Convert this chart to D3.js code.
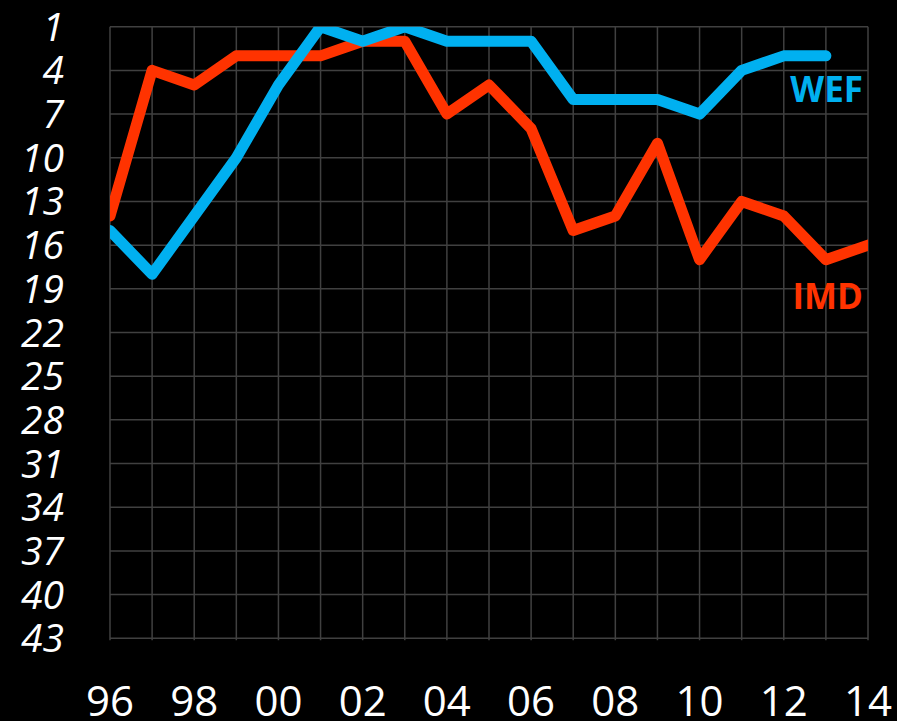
<!DOCTYPE html>
<html>
<head>
<meta charset="utf-8">
<script src="https://cdn.jsdelivr.net/npm/d3@7"></script>
<style>
  html, body { margin: 0; padding: 0; background: #000; }
  svg { display: block; }
</style>
</head>
<body>
<svg id="chart" width="897" height="721"></svg>
<script>
const years = [1996,1997,1998,1999,2000,2001,2002,2003,2004,2005,2006,2007,2008,2009,2010,2011,2012,2013,2014];
const wefYears = [1996,1997,1998,1999,2000,2001,2002,2003,2004,2005,2006,2007,2008,2009,2010,2011,2012,2013];
const wefRank = [15,18,14,10,5,1,2,1,2,2,2,6,6,6,7,4,3,3];
const imdYears = years;
const imdRank = [14,4,5,3,3,3,2,2,7,5,8,15,14,9,17,13,14,17,16];
const yTicks = [1,4,7,10,13,16,19,22,25,28,31,34,37,40,43];
const xTickYears = [1996,1998,2000,2002,2004,2006,2008,2010,2012,2014];
const seriesNames = ["WEF","IMD"];

const svg = d3.select("#chart");
const L = 110, R = 868, T = 26.7, B = 638.3;
const x = d3.scaleLinear().domain([1996, 2014]).range([L, R]);
const y = d3.scaleLinear().domain([1, 43]).range([T, B]);
const grid = "#404040";

// background
svg.append("rect").attr("width", 897).attr("height", 721).attr("fill", "#000");

// horizontal gridlines
svg.append("g").selectAll("line").data(yTicks).join("line")
  .attr("x1", L).attr("x2", R)
  .attr("y1", d => y(d)).attr("y2", d => y(d))
  .attr("stroke", grid).attr("stroke-width", 1.5);
// vertical gridlines
svg.append("g").selectAll("line").data(years).join("line")
  .attr("x1", d => x(d)).attr("x2", d => x(d))
  .attr("y1", T).attr("y2", B + 2)
  .attr("stroke", grid).attr("stroke-width", 1.5);

// y labels
svg.append("g").selectAll("text").data(yTicks).join("text")
  .attr("x", 64).attr("y", d => y(d) + 14)
  .attr("text-anchor", "end")
  .attr("font-family", "Open Sans").attr("font-style", "italic")
  .attr("font-size", 39).attr("fill", "#fff")
  .text(d => d);

// x labels
svg.append("g").selectAll("text").data(xTickYears).join("text")
  .attr("x", d => x(d)).attr("y", 716)
  .attr("text-anchor", "middle")
  .attr("font-family", "Open Sans")
  .attr("font-size", 42).attr("fill", "#fff")
  .text(d => String(d % 100).padStart(2, "0"));

// clip
svg.append("clipPath").attr("id", "plotclip")
  .append("rect").attr("x", L).attr("y", T).attr("width", R - L).attr("height", B - T);

const line = d3.line().x(d => x(d[0])).y(d => y(d[1]));
const plot = svg.append("g").attr("clip-path", "url(#plotclip)");
plot.append("path")
  .datum(imdYears.map((yr, i) => [yr, imdRank[i]]))
  .attr("d", line).attr("fill", "none")
  .attr("stroke", "#FF3300").attr("stroke-width", 11)
  .attr("stroke-linejoin", "round").attr("stroke-linecap", "round");
plot.append("path")
  .datum(wefYears.map((yr, i) => [yr, wefRank[i]]))
  .attr("d", line).attr("fill", "none")
  .attr("stroke", "#00B0F0").attr("stroke-width", 11)
  .attr("stroke-linejoin", "round").attr("stroke-linecap", "round");

// series labels
svg.append("text").attr("x", 863).attr("y", 102)
  .attr("text-anchor", "end").attr("font-family", "Open Sans").attr("font-weight", "bold")
  .attr("font-size", 35).attr("fill", "#00B0F0").text(seriesNames[0]);
svg.append("text").attr("x", 863).attr("y", 309)
  .attr("text-anchor", "end").attr("font-family", "Open Sans").attr("font-weight", "bold")
  .attr("font-size", 35).attr("fill", "#FF3300").text(seriesNames[1]);
</script>
</body>
</html>
